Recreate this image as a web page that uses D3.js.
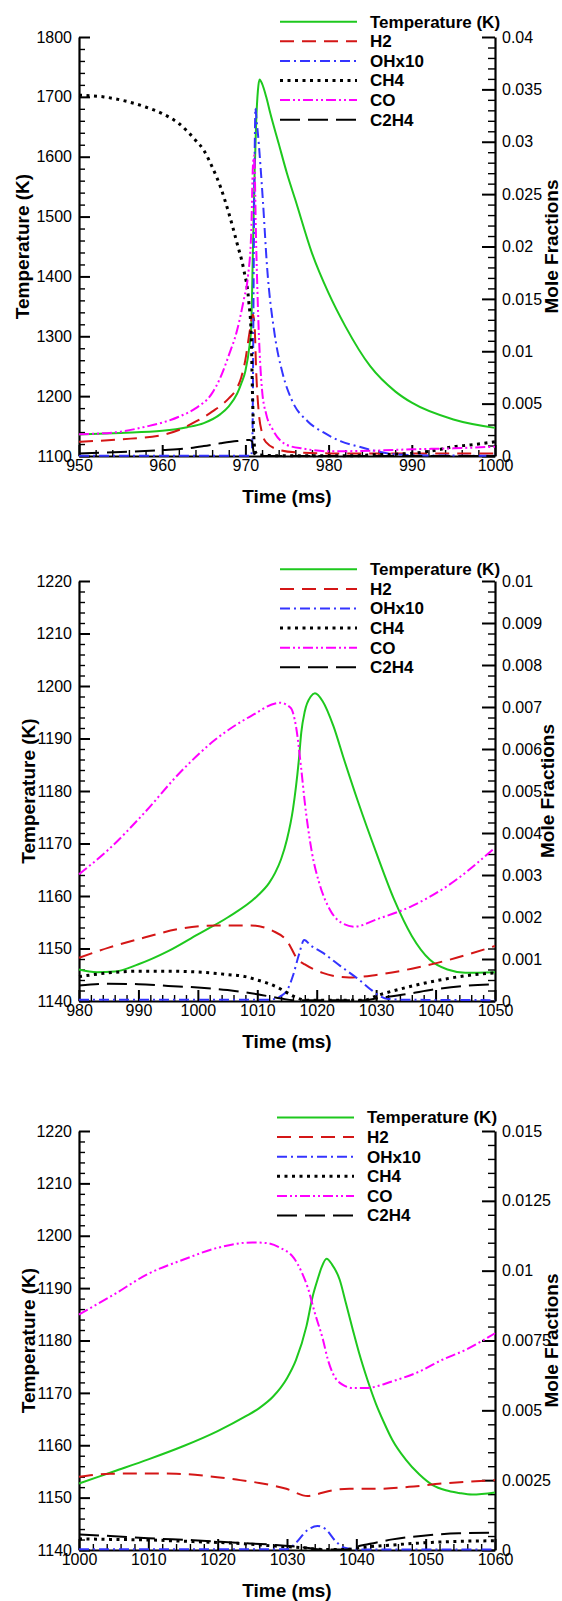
<!DOCTYPE html>
<html>
<head>
<meta charset="utf-8">
<script src="https://cdn.jsdelivr.net/npm/d3@7"></script>
<style>
  body { margin: 0; background: #fff; }
  svg { display: block; font-family: "Liberation Sans", Arial, sans-serif; }
</style>
</head>
<body>
<svg id="chart" width="562" height="1601"></svg>
<script>

// Series, as [time (ms), value] pairs
// Temperature in K (left axis), species in mole fraction (right axis)

// Panel 1: 950 - 1000 ms
const p1Temp = [[950,1136],[955,1138.5],[960,1142],[963,1148],[965,1155],[967,1170],[968,1183],[969,1204],[969.5,1221],[970,1242],[970.5,1285],[970.7,1315],[970.9,1440],[971.1,1570],[971.3,1660],[971.5,1710],[971.7,1729],[972,1722],[972.5,1700],[973,1672],[974,1622],[975,1572],[976,1528],[978,1439],[980,1372],[982,1317],[985,1250],[988,1208],[990,1189],[995,1161],[1000,1147]];
const p1H2 = [[950,0.00136],[955,0.00159],[960,0.0020],[962,0.00248],[964,0.00327],[966,0.00423],[968,0.0055],[969,0.0065],[969.5,0.0075],[970,0.0092],[970.5,0.0118],[970.9,0.0135],[971.1,0.0125],[971.3,0.0080],[971.6,0.0042],[972,0.0022],[972.5,0.0013],[974,0.0006],[976,0.00035],[980,0.00025],[990,0.00025],[1000,0.00025]];
const p1OH = [[950,0.00002],[970.7,0.00002],[970.85,0.002],[970.95,0.012],[971.05,0.024],[971.15,0.031],[971.2,0.0332],[971.35,0.032],[971.5,0.0308],[972.1,0.0244],[972.6,0.0181],[973.5,0.0117],[974.5,0.0078],[975.6,0.0053],[977.5,0.0033],[979.5,0.0022],[981.5,0.0014],[983.6,0.0009],[987,0.00026],[990,0.00008],[1000,0.00002]];
const p1CH4 = [[950,0.03444],[953,0.03428],[956,0.0338],[958,0.03332],[960,0.03269],[962,0.03174],[964,0.03015],[965,0.02919],[966,0.0276],[967,0.0257],[968,0.0232],[969,0.0203],[969.8,0.0178],[970.4,0.0148],[970.7,0.0115],[970.85,0.006],[971,0.002],[971.2,0.0004],[971.5,0.0001],[975,0.00002],[983,0.00002],[985,0.0001],[990,0.00026],[993,0.00057],[995,0.00089],[997,0.00105],[1000,0.00136]];
const p1CO = [[950,0.00207],[955,0.00232],[958,0.0028],[960,0.00318],[962,0.00375],[964,0.00455],[966,0.0060],[967,0.0075],[968,0.0096],[969,0.0120],[969.8,0.0149],[970.3,0.0171],[970.7,0.0213],[970.9,0.0276],[971.05,0.0287],[971.3,0.020],[971.6,0.012],[972,0.0063],[972.5,0.0040],[973.3,0.0025],[975,0.00105],[977,0.0007],[980,0.00045],[985,0.0005],[990,0.00064],[995,0.00073],[1000,0.00089]];
const p1C2H4 = [[950,0.00025],[955,0.00038],[960,0.00057],[963,0.00073],[965,0.00095],[967,0.00121],[969,0.00143],[970.5,0.00153],[970.8,0.0014],[971,0.0003],[971.3,0],[1000,0]];

// Panel 2: 980 - 1050 ms
const p2Temp = [[980,1146],[983,1145.5],[986,1145.6],[990,1147],[995,1149.5],[1000,1152.7],[1005,1155.9],[1010,1160],[1012,1162.5],[1013,1164.4],[1014,1167],[1015,1170.8],[1016,1176.5],[1017,1186],[1017.4,1191.1],[1018,1195.2],[1019,1198],[1019.7,1198.6],[1021,1197.1],[1022.8,1192.4],[1024.6,1186],[1027,1177.8],[1030,1168.3],[1033,1159.4],[1036,1152.4],[1039,1147.9],[1042,1146],[1045,1145.4],[1050,1145.5]];
const p2H2 = [[980,0.00103],[985,0.00127],[991,0.00151],[997,0.00172],[1003,0.0018],[1009,0.0018],[1012.6,0.00167],[1015,0.00143],[1016.8,0.00099],[1018,0.00087],[1021,0.00067],[1025.5,0.00056],[1030,0.00062],[1036,0.00077],[1042,0.00097],[1050,0.00131]];
const p2OH = [[980,0.00003],[1012,0.00003],[1014,0.00012],[1015,0.00025],[1016,0.0006],[1017,0.0011],[1017.9,0.00145],[1019,0.00132],[1021,0.00115],[1024,0.00083],[1027,0.00052],[1029.4,0.00024],[1030.6,0.00012],[1032,0.00005],[1035,0.00003],[1050,0.00002]];
const p2CH4 = [[980,0.00058],[985,0.00067],[990,0.00071],[995,0.00071],[1000,0.00069],[1005,0.00063],[1008,0.00058],[1010,0.0005],[1012,0.00041],[1014,0.00028],[1016,0.00012],[1018,0.00002],[1028,0.00002],[1030,0.00012],[1035,0.00032],[1040,0.00048],[1045,0.0006],[1050,0.00067]];
const p2CO = [[980,0.00302],[985,0.00361],[991,0.00448],[997,0.00544],[1003,0.00623],[1009,0.00679],[1013.8,0.0071],[1015.6,0.00698],[1016.5,0.00655],[1017.4,0.00552],[1018,0.00472],[1019.2,0.00353],[1020.4,0.00282],[1022.2,0.00218],[1024.6,0.00183],[1026.4,0.00177],[1030,0.00194],[1036,0.00226],[1042,0.00274],[1050,0.00365]];
const p2C2H4 = [[980,0.00037],[985,0.00041],[990,0.0004],[995,0.00036],[1000,0.00032],[1005,0.00026],[1010,0.00016],[1014,0.00006],[1016,0.00002],[1028,0.00002],[1030,0.00006],[1035,0.00016],[1040,0.00028],[1045,0.00036],[1050,0.0004]];

// Panel 3: 1000 - 1060 ms
const p3Temp = [[1000,1152.7],[1005,1155],[1010,1157.3],[1015,1159.8],[1020,1162.7],[1024,1165.5],[1026,1167.1],[1028,1169.3],[1030,1172.8],[1031.3,1176.3],[1032.8,1182.7],[1033.7,1188.4],[1034.4,1191.6],[1035,1194],[1035.7,1195.6],[1036.5,1194.5],[1037.6,1191.6],[1038.5,1187.1],[1039.5,1182],[1040.4,1177.6],[1041.6,1172.5],[1042.8,1168],[1044,1164.3],[1045.2,1161],[1047.1,1157.3],[1049.1,1154.4],[1051,1152.4],[1052.9,1151.4],[1054.8,1150.9],[1056.7,1150.6],[1060,1151]];
const p3H2 = [[1000,0.00262],[1004.5,0.00273],[1009.3,0.00274],[1014,0.00273],[1018.8,0.00264],[1022.7,0.00252],[1026,0.0024],[1029.9,0.00219],[1033,0.00193],[1034.2,0.00199],[1036.6,0.00214],[1039,0.00219],[1042.8,0.00219],[1047.6,0.00226],[1052.4,0.00238],[1057.2,0.00246],[1060,0.0025]];
const p3OH = [[1000,0.00003],[1030,0.00003],[1031.3,0.00026],[1032.8,0.00068],[1034.4,0.00086],[1035.6,0.00074],[1037,0.00032],[1038.3,0.00008],[1040,0.00002],[1060,0.00002]];
const p3CH4 = [[1000,0.0004],[1004.5,0.00038],[1010,0.00036],[1016.5,0.0003],[1022.7,0.00024],[1028.4,0.00014],[1032.8,0.00007],[1035,0.00002],[1038.5,0.00002],[1040.4,0.00008],[1045.2,0.00018],[1050,0.00026],[1054.8,0.00031],[1060,0.00033]];
const p3CO = [[1000,0.00843],[1005,0.00914],[1010,0.00989],[1015,0.01039],[1020,0.01082],[1025,0.01101],[1027,0.01099],[1029,0.01082],[1031,0.01045],[1032,0.01001],[1033,0.00939],[1034,0.0085],[1035.2,0.00752],[1035.9,0.00681],[1036.6,0.00633],[1038,0.00592],[1039.5,0.0058],[1041.4,0.0058],[1045.2,0.00604],[1049.1,0.00639],[1052.4,0.00681],[1055.8,0.00717],[1060,0.00776]];
const p3C2H4 = [[1000,0.00056],[1004.5,0.0005],[1010,0.00042],[1016.5,0.00035],[1022.7,0.00026],[1028.4,0.00018],[1032.8,0.00008],[1035,0.00002],[1038.5,0.00002],[1040.4,0.00014],[1042.8,0.00026],[1045.2,0.00038],[1050,0.00052],[1054.8,0.0006],[1060,0.00062]];

// Legend labels, in drawing order
const seriesLabels = ['Temperature (K)', 'H2', 'OHx10', 'CH4', 'CO', 'C2H4'];

// Line styles for each series
const seriesStyles = [
    {color: '#1ec81e', dash: null,          width: 2},
    {color: '#d41616', dash: '14,8',        width: 2},
    {color: '#3434ff', dash: '10,4,2,4',    width: 2},
    {color: '#000000', dash: '3,4.5',       width: 3},
    {color: '#ff00ff', dash: '10,3,2,3,2,3', width: 2},
    {color: '#000000', dash: '20,8',        width: 2},
];

// Axis ranges and tick steps for the three panels
const panels = [
    {top: 37,   bottom: 456,  time: [950, 1000],  temp: [1100, 1800], mole: [0, 0.04],
     timeStep: 10, timeMinor: 2, tempStep: 100, tempMinor: 20, moleStep: 0.005, moleMinor: 0.001,
     legendY: 21.7, legendX: 280, tempTitleX: 22, moleTitleX: 552,
     series: [p1Temp, p1H2, p1OH, p1CH4, p1CO, p1C2H4]},
    {top: 581,  bottom: 1001, time: [980, 1050],  temp: [1140, 1220], mole: [0, 0.01],
     timeStep: 10, timeMinor: 2, tempStep: 10, tempMinor: 2, moleStep: 0.001, moleMinor: 0.00025,
     legendY: 569.3, legendX: 280, tempTitleX: 28, moleTitleX: 548,
     series: [p2Temp, p2H2, p2OH, p2CH4, p2CO, p2C2H4]},
    {top: 1131, bottom: 1550, time: [1000, 1060], temp: [1140, 1220], mole: [0, 0.015],
     timeStep: 10, timeMinor: 2, tempStep: 10, tempMinor: 2, moleStep: 0.0025, moleMinor: 0.0005,
     legendY: 1117.5, legendX: 277, tempTitleX: 28, moleTitleX: 552,
     series: [p3Temp, p3H2, p3OH, p3CH4, p3CO, p3C2H4]},
];

const plotLeft = 79, plotRight = 495;
const svg = d3.select('#chart');

// Build tick values from a range, dropping float noise
function steps(lo, hi, step){
    const n = Math.round((hi - lo) / step);
    return d3.range(n + 1).map(i => +(lo + i * step).toFixed(6));
}
function minorsOf(lo, hi, step, major){
    return steps(lo, hi, step).filter(v => Math.abs(v / major - Math.round(v / major)) > 1e-6);
}
const moleFormat = v => v === 0 ? '0' : String(+v.toFixed(6));

function styleAxis(sel, w){
    sel.selectAll('.domain').attr('stroke', '#000').attr('stroke-width', 2.2);
    sel.selectAll('.tick line').attr('stroke', '#000').attr('stroke-width', w);
    sel.selectAll('.tick text').attr('font-size', 16).attr('fill', '#000')
        .attr('font-family', '"Liberation Sans", Arial, sans-serif');
}

panels.forEach((p, idx) => {
    const g = svg.append('g');

    const x = d3.scaleLinear().domain(p.time).range([plotLeft, plotRight]);
    const yT = d3.scaleLinear().domain(p.temp).range([p.bottom, p.top]);
    const yM = d3.scaleLinear().domain(p.mole).range([p.bottom, p.top]);

    // Minor ticks first, then major ticks with labels
    g.append('g').attr('transform', `translate(0,${p.bottom})`)
        .call(d3.axisBottom(x).tickValues(minorsOf(p.time[0], p.time[1], p.timeMinor, p.timeStep))
            .tickSize(-6).tickSizeOuter(0).tickFormat(''))
        .call(s => { s.select('.domain').remove(); styleAxis(s, 1.4); });
    g.append('g').attr('transform', `translate(${plotLeft},0)`)
        .call(d3.axisLeft(yT).tickValues(minorsOf(p.temp[0], p.temp[1], p.tempMinor, p.tempStep))
            .tickSize(-6).tickSizeOuter(0).tickFormat(''))
        .call(s => { s.select('.domain').remove(); styleAxis(s, 1.4); });
    g.append('g').attr('transform', `translate(${plotRight},0)`)
        .call(d3.axisRight(yM).tickValues(minorsOf(p.mole[0], p.mole[1], p.moleMinor, p.moleStep))
            .tickSize(-7).tickSizeOuter(0).tickFormat(''))
        .call(s => { s.select('.domain').remove(); styleAxis(s, 1.4); });

    g.append('g').attr('transform', `translate(0,${p.bottom})`)
        .call(d3.axisBottom(x).tickValues(steps(p.time[0], p.time[1], p.timeStep))
            .tickSize(-11).tickSizeOuter(0).tickPadding(4).tickFormat(d3.format('d')))
        .call(s => styleAxis(s, 2));
    g.append('g').attr('transform', `translate(${plotLeft},0)`)
        .call(d3.axisLeft(yT).tickValues(steps(p.temp[0], p.temp[1], p.tempStep))
            .tickSize(-11).tickSizeOuter(0).tickPadding(7).tickFormat(d3.format('d')))
        .call(s => styleAxis(s, 2));
    g.append('g').attr('transform', `translate(${plotRight},0)`)
        .call(d3.axisRight(yM).tickValues(steps(p.mole[0], p.mole[1], p.moleStep))
            .tickSize(-13).tickSizeOuter(0).tickPadding(7).tickFormat(moleFormat))
        .call(s => styleAxis(s, 2));

    // Curves, clipped to the frame
    const clipId = `clip${idx}`;
    g.append('clipPath').attr('id', clipId).append('rect')
        .attr('x', plotLeft - 2).attr('y', p.top - 4)
        .attr('width', plotRight - plotLeft + 4).attr('height', p.bottom - p.top + 7);

    const lines = g.append('g').attr('clip-path', `url(#${clipId})`);
    p.series.forEach((data, i) => {
        const y = i === 0 ? yT : yM;
        const line = d3.line().x(d => x(d[0])).y(d => y(d[1])).curve(d3.curveMonotoneX);
        const st = seriesStyles[i];
        lines.append('path')
            .datum(data)
            .attr('d', line)
            .attr('fill', 'none')
            .attr('stroke', st.color)
            .attr('stroke-width', st.width)
            .attr('stroke-dasharray', st.dash);
    });

    // Legend
    const leg = g.append('g');
    seriesLabels.forEach((label, i) => {
        const st = seriesStyles[i];
        const ly = p.legendY + i * 19.6;
        leg.append('line')
            .attr('x1', p.legendX).attr('x2', p.legendX + 77)
            .attr('y1', ly).attr('y2', ly)
            .attr('stroke', st.color).attr('stroke-width', st.width)
            .attr('stroke-dasharray', st.dash);
        leg.append('text')
            .attr('x', p.legendX + 90).attr('y', ly).attr('dy', '0.35em')
            .attr('font-size', 17).attr('font-weight', 'bold')
            .text(label);
    });

    // Axis titles
    g.append('text')
        .attr('x', (plotLeft + plotRight) / 2).attr('y', p.bottom + 47)
        .attr('text-anchor', 'middle').attr('font-size', 19).attr('font-weight', 'bold')
        .text('Time (ms)');
    g.append('text')
        .attr('transform', `translate(${p.tempTitleX},${(p.top + p.bottom) / 2}) rotate(-90)`)
        .attr('text-anchor', 'middle').attr('dy', '0.35em')
        .attr('font-size', 19).attr('font-weight', 'bold')
        .text('Temperature (K)');
    g.append('text')
        .attr('transform', `translate(${p.moleTitleX},${(p.top + p.bottom) / 2}) rotate(-90)`)
        .attr('text-anchor', 'middle').attr('dy', '0.3em')
        .attr('font-size', 19).attr('font-weight', 'bold')
        .text('Mole Fractions');
});

</script>
</body>
</html>
